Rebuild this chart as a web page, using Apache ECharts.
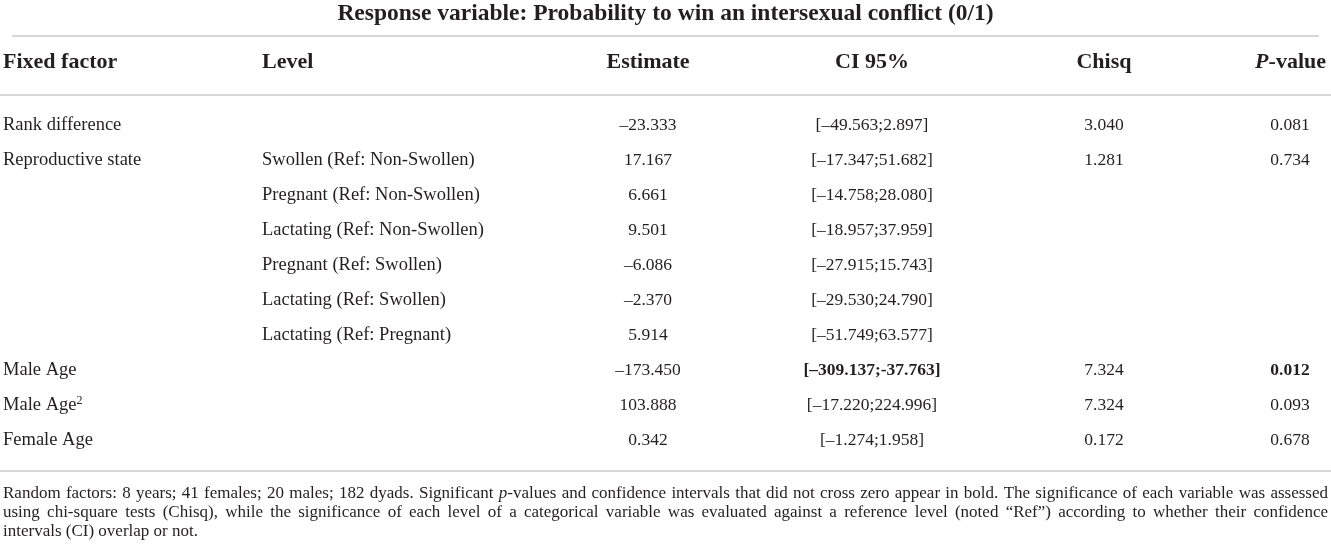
<!DOCTYPE html>
<html>
<head>
<meta charset="utf-8">
<script src="https://cdn.jsdelivr.net/npm/echarts@6/dist/echarts.min.js"></script>
<style>
  html, body { margin: 0; padding: 0; background: #fff; }
  #wrap { width: 1331px; height: 554px; }
</style>
</head>
<body>
<div id="wrap"></div>
<script>
// table content
var title = 'Response variable: Probability to win an intersexual conflict (0/1)';
var headers = ['Fixed factor', 'Level', 'Estimate', 'CI 95%', 'Chisq', 'P-value'];
var factors = ['Rank difference', 'Reproductive state', '', '', '', '', '', 'Male Age', 'Male Age2', 'Female Age'];
var levels = ['', 'Swollen (Ref: Non-Swollen)', 'Pregnant (Ref: Non-Swollen)', 'Lactating (Ref: Non-Swollen)',
  'Pregnant (Ref: Swollen)', 'Lactating (Ref: Swollen)', 'Lactating (Ref: Pregnant)', '', '', ''];
var estimates = ['–23.333', '17.167', '6.661', '9.501', '–6.086', '–2.370', '5.914', '–173.450', '103.888', '0.342'];
var cis = ['[–49.563;2.897]', '[–17.347;51.682]', '[–14.758;28.080]', '[–18.957;37.959]', '[–27.915;15.743]',
  '[–29.530;24.790]', '[–51.749;63.577]', '[–309.137;-37.763]', '[–17.220;224.996]', '[–1.274;1.958]'];
var chisqs = ['3.040', '1.281', '', '', '', '', '', '7.324', '7.324', '0.172'];
var pvalues = ['0.081', '0.734', '', '', '', '', '', '0.012', '0.093', '0.678'];
var boldRows = [7]; // CI and p-value in bold
var footLines = [
  'Random factors: 8 years; 41 females; 20 males; 182 dyads. Significant p-values and confidence intervals that did not cross zero appear in bold. The significance of each variable was assessed',
  'using chi-square tests (Chisq), while the significance of each level of a categorical variable was evaluated against a reference level (noted “Ref”) according to whether their confidence',
  'intervals (CI) overlap or not.'
];

var W = 1331;
var FONT = '"Liberation Serif", "DejaVu Serif", serif';
var INK = '#231f20';
var RULE = '#c8c8c8';
var colX = [3, 262, 648, 872, 1104, 1290];
var colAlign = ['left', 'left', 'center', 'center', 'center', 'center'];
var WORD_SIZE = 18.5, NUM_SIZE = 17.5, HEAD_SIZE = 22, TITLE_SIZE = 23.5;

var rowIdx = factors.map(function (f, i) { return String(i); });

var wrap = document.getElementById('wrap');
var myChart = echarts.init(wrap, null, { renderer: 'canvas' });

function cellText(x, y, str, align, size, bold, rich) {
  return {
    type: 'text',
    x: x,
    y: y,
    style: {
      text: str,
      font: (bold ? 'bold ' : '') + size + 'px ' + FONT,
      fill: INK,
      align: align,
      verticalAlign: 'middle',
      rich: rich
    }
  };
}

var supRich = {
  sup: { fontSize: 12, fontFamily: FONT, fill: INK, verticalAlign: 'top', padding: [0, 0, 9, 0] }
};

function renderRow(params, api) {
  var i = api.value(0);
  var y = api.coord([0, i])[1];
  var kids = [];
  var fac = factors[i];
  if (fac === 'Male Age2') {
    kids.push(cellText(colX[0], y, 'Male Age{sup|2}', 'left', WORD_SIZE, false, supRich));
  } else if (fac) {
    kids.push(cellText(colX[0], y, fac, 'left', WORD_SIZE));
  }
  if (levels[i]) kids.push(cellText(colX[1], y, levels[i], 'left', WORD_SIZE));
  var bold = boldRows.indexOf(i) >= 0;
  kids.push(cellText(colX[2], y, estimates[i], 'center', NUM_SIZE));
  kids.push(cellText(colX[3], y, cis[i], 'center', NUM_SIZE, bold));
  if (chisqs[i]) kids.push(cellText(colX[4], y, chisqs[i], 'center', NUM_SIZE));
  if (pvalues[i]) kids.push(cellText(colX[5], y, pvalues[i], 'center', NUM_SIZE, bold));
  return { type: 'group', children: kids };
}

// justified footnote, word by word
var measure = document.createElement('canvas').getContext('2d');
function footnoteGraphics(left, right, top, lineH) {
  // largest size (up to 17px) that keeps word gaps >= 2.5px on the justified lines
  var size = 17;
  measure.font = '16px ' + FONT;
  footLines.slice(0, 2).forEach(function (l) {
    var ws = l.split(' ');
    var wsum = 0;
    ws.forEach(function (w) { wsum += measure.measureText(w).width; });
    size = Math.min(size, 16 * (right - left - 2.5 * (ws.length - 1)) / wsum);
  });
  var font = size + 'px ' + FONT;
  measure.font = font;
  var out = [];
  footLines.forEach(function (line, li) {
    var ws = line.split(' ');
    var wsum = 0;
    ws.forEach(function (w) { wsum += measure.measureText(w).width; });
    var last = li === footLines.length - 1;
    var gap = last ? measure.measureText(' ').width : (right - left - wsum) / (ws.length - 1);
    var x = left;
    ws.forEach(function (w) {
      var txt = w === 'p-values' ? '{i|p}-values' : w;
      out.push({
        type: 'text', x: x, y: top + li * lineH,
        style: {
          text: txt, font: font, fill: INK, align: 'left', verticalAlign: 'middle',
          rich: { i: { fontStyle: 'italic', fontSize: size, fontFamily: FONT, fill: INK } }
        }
      });
      x += measure.measureText(w).width + gap;
    });
  });
  return out;
}

var graphics = [
  { type: 'text', x: W / 2, y: 14, style: { text: title, font: 'bold ' + TITLE_SIZE + 'px ' + FONT, fill: INK, align: 'center', verticalAlign: 'middle' } },
  { type: 'line', shape: { x1: 12, y1: 36, x2: 1319, y2: 36 }, style: { stroke: RULE, lineWidth: 1.5 } },
  { type: 'line', shape: { x1: 0, y1: 95, x2: W, y2: 95 }, style: { stroke: RULE, lineWidth: 1.5 } },
  { type: 'line', shape: { x1: 0, y1: 471, x2: W, y2: 471 }, style: { stroke: RULE, lineWidth: 1.5 } }
];
headers.forEach(function (h, k) {
  var txt = h === 'P-value' ? '{it|P}-value' : h;
  var x = k === 5 ? 1326 : colX[k];
  graphics.push({
    type: 'text', x: x, y: 62,
    style: {
      text: txt, font: 'bold ' + HEAD_SIZE + 'px ' + FONT, fill: INK, align: k === 5 ? 'right' : colAlign[k], verticalAlign: 'middle',
      rich: { it: { fontStyle: 'italic', fontWeight: 'bold', fontSize: HEAD_SIZE, fontFamily: FONT, fill: INK } }
    }
  });
});
graphics = graphics.concat(footnoteGraphics(3, 1328, 494, 19));

var option = {
  animation: false,
  grid: { left: 0, right: 0, top: 107.5, height: 350 },
  xAxis: { type: 'value', show: false, min: 0, max: 1 },
  yAxis: { type: 'category', show: false, inverse: true, data: rowIdx },
  graphic: graphics,
  series: [{
    type: 'custom',
    renderItem: renderRow,
    data: rowIdx.map(function (r, i) { return [i]; }),
    encode: { y: 0 }
  }]
};

myChart.setOption(option);
</script>
</body>
</html>
